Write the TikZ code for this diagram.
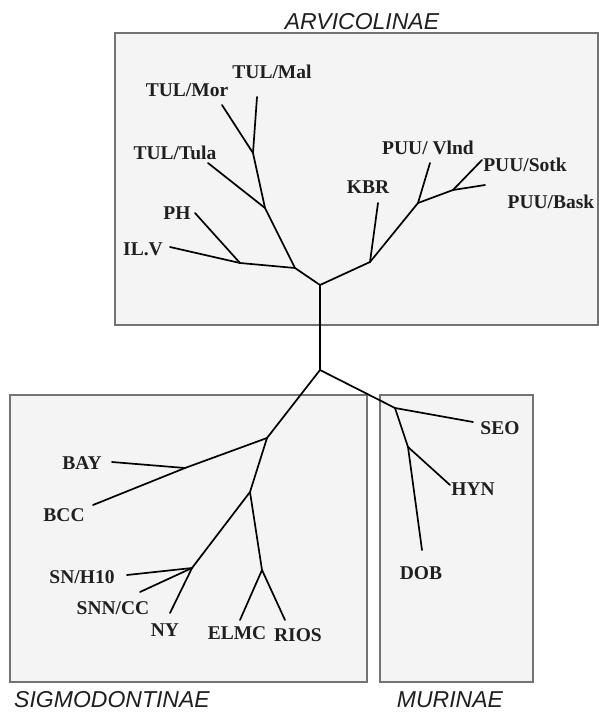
\documentclass[tikz,border=0pt]{standalone}
\usepackage{fontspec}
\setmainfont{Liberation Serif}
\newfontfamily\grpfont{Liberation Sans}
\usepackage{tkz-euclide}
\definecolor{BoxClr}{rgb}{0.45,0.45,0.45}
\definecolor{BoxFill}{rgb}{0.955,0.955,0.955}
\definecolor{TxtClr}{rgb}{0.12,0.12,0.12}
\tikzset{taxon/.style={font=\fontsize{19.5}{19.5}\selectfont\bfseries,inner sep=1pt,text=TxtClr},
  group/.style={font=\grpfont\fontsize{23}{23}\selectfont\itshape,inner sep=0pt,anchor=base,text=TxtClr},
  frame/.style={draw=BoxClr,fill=BoxFill,line width=1.5pt}}

\begin{document}
\begin{tikzpicture}[x=1pt,y=-1pt]
\useasboundingbox[fill=white] (0,0) rectangle (599,713);
\tkzSetUpLine[line width=1.7pt,color=black]

% subfamily boxes
\draw[frame] (115,33) rectangle (598,325);
\draw[frame] (10,395) rectangle (367,682);
\draw[frame] (380,395) rectangle (533,682);

\node[group] (arv) at (362,29) {ARVICOLINAE};
\node[group] (sig) at (112,707) {SIGMODONTINAE};
\node[group] (mur) at (450,707) {MURINAE};

% inner nodes and branch ends
\tkzDefPoints{320/370/J,320/285/A0,
  295/268/L1,240/263/L2,265/208/L3,253/153/L4,
  370/262/R1,418/203/R2,453/190/R3,
  170/247/IL,195/213/PH,208/163/Tu,222/105/Mo,257/97/Ma,
  378/203/KB,430/163/Vl,482/160/So,485/185/Ba}
\tkzDefPoints{267/438/S1,185/468/S2,250/492/S3,192/568/S4,262/570/S5,
  112/462/BY,93/505/BC,127/575/SN,140/592/SC,170/613/NY,240/620/EL,285/620/RI}
\tkzDefPoints{395/408/M1,408/447/M2,473/422/SE,450/485/HY,422/550/DO}

% Arvicolinae
\tkzDrawSegments(J,A0 A0,L1 L1,L2 L2,IL L2,PH L1,L3 L3,Tu L3,L4 L4,Mo L4,Ma)
\tkzDrawSegments(A0,R1 R1,KB R1,R2 R2,Vl R2,R3 R3,So R3,Ba)
% Sigmodontinae
\tkzDrawSegments(J,S1 S1,S2 S2,BY S2,BC S1,S3 S3,S4 S4,SN S4,SC S4,NY S3,S5 S5,EL S5,RI)
% Murinae
\tkzDrawSegments(J,M1 M1,SE M1,M2 M2,HY M2,DO)

% taxa
\node[taxon] (tMal) at (272,72) {TUL/Mal};
\node[taxon] (tMor) at (187,90) {TUL/Mor};
\node[taxon] (tTula) at (175,153) {TUL/Tula};
\node[taxon] (tPH) at (177,213) {PH};
\node[taxon] (tIL) at (143,249) {IL.V};
\node[taxon] (tKBR) at (368,187) {KBR};
\node[taxon] (tVl) at (428,148) {PUU/ Vlnd};
\node[taxon] (tSo) at (525,165) {PUU/Sotk};
\node[taxon] (tBa) at (551,202) {PUU/Bask};
\node[taxon] (tBAY) at (82,463) {BAY};
\node[taxon] (tBCC) at (64,515) {BCC};
\node[taxon] (tSN) at (82,577) {SN/H10};
\node[taxon] (tSNN) at (113,608) {SNN/CC};
\node[taxon] (tNY) at (165,630) {NY};
\node[taxon] (tEL) at (237,633) {ELMC};
\node[taxon] (tRI) at (298,635) {RIOS};
\node[taxon] (tSEO) at (500,428) {SEO};
\node[taxon] (tHYN) at (473,489) {HYN};
\node[taxon] (tDOB) at (421,573) {DOB};
\end{tikzpicture}
\end{document}
